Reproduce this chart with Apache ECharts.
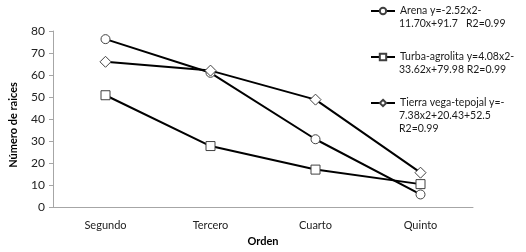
<!DOCTYPE html>
<html>
<head>
<meta charset="utf-8">
<script src="https://cdn.jsdelivr.net/npm/echarts@6/dist/echarts.min.js"></script>
<style>
  html, body { margin: 0; padding: 0; background: #fff; }
  #chart { width: 526px; height: 252px; }
</style>
</head>
<body>
<div id="chart"></div>
<script>
// datos
var categorias = ['Segundo', 'Tercero', 'Cuarto', 'Quinto'];
var arena = [76.3, 61, 30.8, 5.7];
var turba = [50.8, 27.7, 17, 10.4];
var tierra = [66, 62, 48.8, 15.6];

var nombres = ['Arena', 'Turba-agrolita', 'Tierra vega-tepojal'];
// texto de la leyenda: primera linea junto al simbolo, el resto debajo
var etiquetas = [
  ['Arena y=-2.52x2-', '11.70x+91.7   R2=0.99'],
  ['Turba-agrolita y=4.08x2-', '33.62x+79.98 R2=0.99'],
  ['Tierra vega-tepojal y=-', '7.38x2+20.43+52.5', 'R2=0.99']
];
var simbolos = ['circle', 'rect', 'diamond'];
var valores = [arena, turba, tierra];

var fuente = 'Lato';
var lh = 13;
var leyX = 370, leyW = 24;
var leyY = [11, 57, 103]; // centro de la primera linea

var leyendas = [];
var textos = [];
for (var k = 0; k < 3; k++) {
  (function (i) {
    leyendas.push({
      orient: 'vertical',
      left: leyX,
      top: leyY[i] - 6.5,
      padding: 0,
      itemWidth: leyW,
      itemHeight: 8,
      data: [{ name: nombres[i] }],
      formatter: function () { return etiquetas[i][0]; },
      textStyle: { fontFamily: fuente, fontSize: 10.5, color: '#1a1a1a', lineHeight: lh }
    });
    for (var j = 1; j < etiquetas[i].length; j++) {
      textos.push({
        type: 'text',
        left: leyX + leyW + 5,
        top: leyY[i] + j * lh - 6.5,
        style: { text: etiquetas[i][j], font: '10.5px ' + fuente, fill: '#1a1a1a', lineHeight: lh }
      });
    }
  })(k);
}

var series = [];
for (var i = 0; i < 3; i++) {
  series.push({
    name: nombres[i],
    type: 'line',
    data: valores[i],
    symbol: simbolos[i],
    symbolSize: simbolos[i] == 'diamond' ? 11 : 9,
    lineStyle: { color: '#000', width: 2 },
    itemStyle: { color: '#fff', borderColor: '#404040', borderWidth: 1 },
    z: 2
  });
}

var chart = echarts.init(document.getElementById('chart'));
var option = {
  animation: false,
  legend: leyendas,
  graphic: textos,
  grid: { left: 48, right: 53, top: 31, bottom: 41 },
  xAxis: {
    type: 'category',
    data: categorias,
    name: 'Orden',
    nameLocation: 'middle',
    nameGap: 29,
    nameTextStyle: { fontFamily: fuente, fontSize: 11, fontWeight: 'bold', color: '#000' },
    axisLine: { lineStyle: { color: '#a6a6a6', width: 1 } },
    axisTick: { length: 4, lineStyle: { color: '#a6a6a6' } },
    axisLabel: { fontFamily: fuente, fontSize: 11, color: '#222', margin: 13 }
  },
  yAxis: {
    type: 'value',
    min: 0,
    max: 80,
    interval: 10,
    name: 'Número de raices',
    nameLocation: 'middle',
    nameGap: 34,
    nameRotate: 90,
    nameTextStyle: { fontFamily: fuente, fontSize: 11, fontWeight: 'bold', color: '#000', padding: [0, 12, 0, 0] },
    splitLine: { show: false },
    axisLine: { show: true, lineStyle: { color: '#a6a6a6', width: 1 } },
    axisTick: { show: true, length: 4, lineStyle: { color: '#a6a6a6' } },
    axisLabel: { fontFamily: fuente, fontSize: 12, color: '#222', margin: 8 }
  },
  series: series
};
chart.setOption(option);
</script>
</body>
</html>
